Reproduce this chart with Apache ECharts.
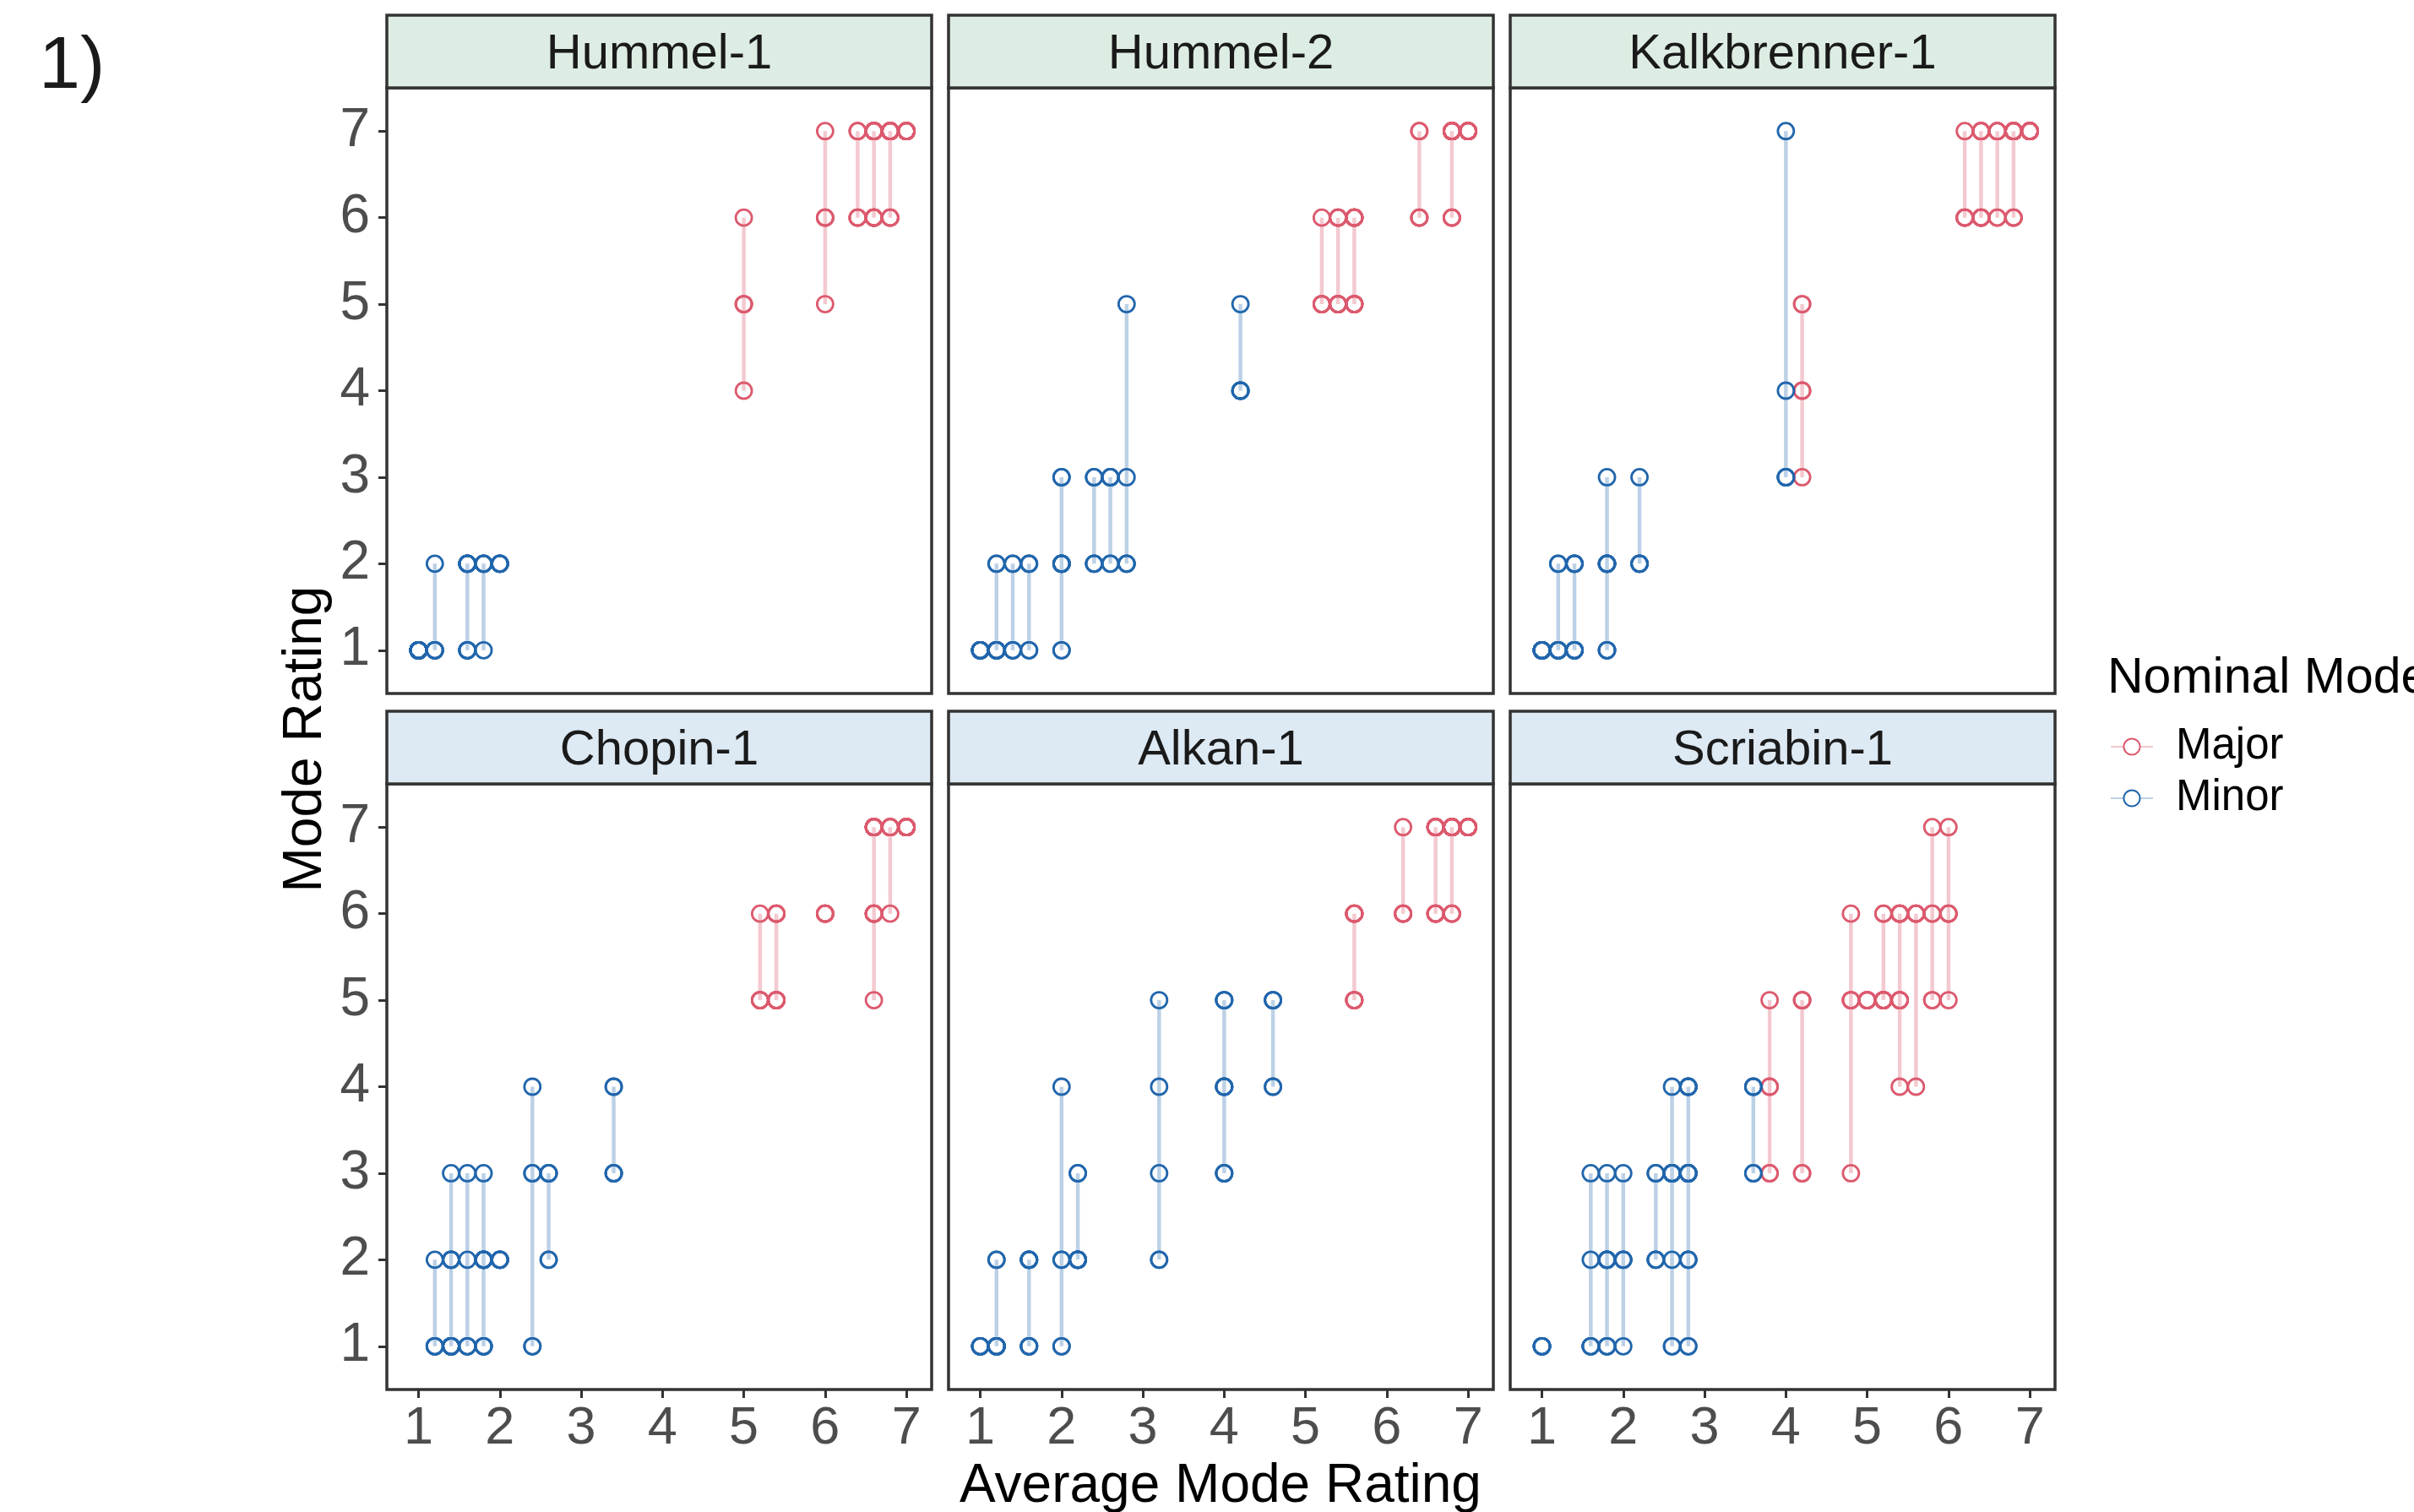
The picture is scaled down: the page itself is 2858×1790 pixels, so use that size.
<!DOCTYPE html>
<html>
<head>
<meta charset="utf-8">
<script src="https://cdn.jsdelivr.net/npm/echarts@6/dist/echarts.min.js"></script>
<style>
html, body { margin: 0; padding: 0; background: #ffffff; }
#chart { width: 2858px; height: 1790px; }
</style>
</head>
<body>
<div id="chart"></div>
<script>
// ---------------- DATA ----------------
// Facet (piece) names, in display order (row by row)
const panelNames = ['Hummel-1', 'Hummel-2', 'Kalkbrenner-1', 'Chopin-1', 'Alkan-1', 'Scriabin-1'];
const modeNames = ['Major', 'Minor'];
const tickValues = [1, 2, 3, 4, 5, 6, 7];

// Each entry = the five mode ratings given to one excerpt; x = their average
const hummel1Major = [
  [6,5,5,5,4], [7,6,6,6,5], [7,7,6,6,6],
  [7,7,7,6,6], [7,7,7,6,6], [7,7,7,6,6], [7,7,7,6,6],
  [7,7,7,7,6], [7,7,7,7,6], [7,7,7,7,6],
  [7,7,7,7,7], [7,7,7,7,7]
];
const hummel1Minor = [
  [1,1,1,1,1], [1,1,1,1,1], [1,1,1,1,1], [1,1,1,1,1], [1,1,1,1,1], [1,1,1,1,1],
  [2,1,1,1,1], [2,2,2,1,1], [2,2,2,1,1], [2,2,2,2,1], [2,2,2,2,2]
];
const hummel2Major = [
  [6,5,5,5,5], [6,6,5,5,5], [6,6,5,5,5],
  [6,6,6,5,5], [6,6,6,5,5], [6,6,6,5,5],
  [7,7,6,6,6],
  [7,7,7,7,6], [7,7,7,7,6], [7,7,7,7,6],
  [7,7,7,7,7], [7,7,7,7,7]
];
const hummel2Minor = [
  [1,1,1,1,1], [1,1,1,1,1], [2,1,1,1,1], [2,1,1,1,1], [2,2,1,1,1], [2,2,2,1,1],
  [3,3,2,1,1], [2,2,2,2,2], [3,3,2,2,2], [3,3,3,2,2], [5,3,2,2,2], [5,4,4,4,4]
];
const kalkbrenner1Major = [
  [5,5,4,4,3], [7,6,6,6,6], [7,7,6,6,6], [7,7,6,6,6], [7,7,7,6,6],
  [7,7,7,7,6], [7,7,7,7,6], [7,7,7,7,6], [7,7,7,7,7], [7,7,7,7,7]
];
const kalkbrenner1Minor = [
  [1,1,1,1,1], [1,1,1,1,1], [1,1,1,1,1], [2,1,1,1,1], [2,1,1,1,1],
  [2,2,1,1,1], [2,2,1,1,1], [3,2,2,1,1], [2,2,2,2,1], [3,2,2,2,2], [7,4,3,3,3]
];
const chopin1Major = [
  [6,5,5,5,5], [6,6,5,5,5], [6,6,5,5,5], [6,6,6,6,6], [7,7,7,7,5],
  [7,7,7,6,6], [7,7,7,6,6], [7,7,7,6,6], [7,7,7,7,6],
  [7,7,7,7,7], [7,7,7,7,7], [7,7,7,7,7]
];
const chopin1Minor = [
  [2,1,1,1,1], [3,1,1,1,1], [2,2,1,1,1], [2,2,1,1,1], [3,2,1,1,1], [3,2,2,1,1],
  [2,2,2,2,1], [2,2,2,2,1], [2,2,2,2,2], [4,3,3,1,1], [3,3,3,2,2], [4,4,3,3,3]
];
const alkan1Major = [
  [6,6,6,5,5], [6,6,6,5,5], [7,6,6,6,6],
  [7,7,7,6,6], [7,7,7,6,6], [7,7,7,6,6],
  [7,7,7,7,6], [7,7,7,7,6], [7,7,7,7,6],
  [7,7,7,7,7], [7,7,7,7,7]
];
const alkan1Minor = [
  [1,1,1,1,1], [2,1,1,1,1], [2,1,1,1,1], [2,2,2,1,1], [2,2,2,1,1], [4,2,2,1,1],
  [3,2,2,2,2], [3,2,2,2,2], [5,4,3,2,2], [5,5,4,3,3], [5,4,4,4,3], [5,5,5,4,4]
];
const scriabin1Major = [
  [5,4,4,3,3], [5,5,5,3,3], [6,5,5,5,3], [5,5,5,5,5], [6,5,5,5,5], [6,5,5,5,5],
  [6,6,6,5,4], [6,6,5,5,5], [6,6,6,6,4], [7,6,6,5,5], [7,6,6,6,5]
];
const scriabin1Minor = [
  [1,1,1,1,1], [3,2,1,1,1], [3,2,2,1,1], [2,2,2,2,1], [3,2,2,2,1], [3,3,2,2,2],
  [4,3,3,2,1], [3,3,3,3,1], [4,4,3,2,1], [4,3,3,3,1], [4,3,3,2,2], [4,4,4,3,3]
];

const panelMajor = [hummel1Major, hummel2Major, kalkbrenner1Major, chopin1Major, alkan1Major, scriabin1Major];
const panelMinor = [hummel1Minor, hummel2Minor, kalkbrenner1Minor, chopin1Minor, alkan1Minor, scriabin1Minor];

// ---------------- STYLE / LAYOUT ----------------
const FONT = 'Liberation Sans';
const pointColor = { Major: '#DC5A6E', Minor: '#2166AC' };
const lineColor = { Major: 'rgba(220,90,110,0.33)', Minor: 'rgba(33,102,172,0.3)' };
const stripFill = ['#DDEDE3', '#DDE9F3'];
const colLeft = [458, 1123, 1788];
const rowTop = [104, 928];
const panelW = 645, panelH = 717, stripH = 86;

const avg = r => r.reduce((a, b) => a + b, 0) / r.length;

const grids = [], xAxes = [], yAxes = [], lineSeries = [], pointSeries = [], graphics = [];

panelNames.forEach((name, i) => {
  const col = i % 3, row = Math.floor(i / 3);
  const left = colLeft[col], top = rowTop[row];
  grids.push({
    left: left, top: top, width: panelW, height: panelH,
    show: true, borderColor: '#333333', borderWidth: 3.5, backgroundColor: '#ffffff',
    containLabel: false
  });
  const showX = row === 1, showY = col === 0;
  xAxes.push({
    type: 'value', gridIndex: i, min: 0.61, max: 7.31,
    axisLine: { show: false },
    splitLine: { show: false },
    axisTick: { show: showX, customValues: tickValues, length: 10, lineStyle: { color: '#333333', width: 3 } },
    axisLabel: { show: showX, customValues: tickValues, fontSize: 63, color: '#4D4D4D', margin: 15, fontFamily: FONT }
  });
  yAxes.push({
    type: 'value', gridIndex: i, min: 0.5, max: 7.5,
    axisLine: { show: false },
    splitLine: { show: false },
    axisTick: { show: showY, customValues: tickValues, length: 10, lineStyle: { color: '#333333', width: 3 } },
    axisLabel: { show: showY, customValues: tickValues, fontSize: 64, color: '#4D4D4D', margin: 20, fontFamily: FONT }
  });

  // facet strip
  graphics.push({
    type: 'rect', silent: true, z: 10,
    shape: { x: left, y: top - stripH, width: panelW, height: stripH },
    style: { fill: stripFill[row], stroke: '#333333', lineWidth: 3.5 }
  });
  graphics.push({
    type: 'text', silent: true, z: 11,
    style: {
      x: left + panelW / 2, y: top - stripH / 2 + 4, text: name,
      align: 'center', verticalAlign: 'middle',
      fontSize: 58, fontFamily: FONT, fill: '#1A1A1A'
    }
  });

  modeNames.forEach(mode => {
    const items = mode === 'Major' ? panelMajor[i] : panelMinor[i];
    // vertical range line per excerpt (min rating to max rating at its average)
    const segs = [];
    items.forEach(r => {
      const x = avg(r);
      segs.push([x, Math.min(...r)], [x, Math.max(...r)], [x, '-']);
    });
    lineSeries.push({
      type: 'line', name: mode, xAxisIndex: i, yAxisIndex: i,
      data: segs, connectNulls: false,
      showSymbol: false, symbol: 'emptyCircle', symbolSize: 19,
      lineStyle: { color: lineColor[mode], width: 4.5 },
      itemStyle: { color: pointColor[mode] },
      silent: true, z: 2
    });
    const pts = [];
    items.forEach(r => {
      const x = avg(r);
      r.forEach(v => pts.push([x, v]));
    });
    pointSeries.push({
      type: 'scatter', name: mode, xAxisIndex: i, yAxisIndex: i,
      data: pts, symbol: 'circle', symbolSize: 19,
      itemStyle: { color: 'rgba(255,255,255,0)', borderColor: pointColor[mode], borderWidth: 2.8, opacity: 1 },
      silent: true, z: 3
    });
  });
});

// Figure label, axis titles, legend title
graphics.push(
  { type: 'text', silent: true, style: { x: 46, y: 80, text: '1)', align: 'left', verticalAlign: 'middle', fontSize: 88, fontFamily: FONT, fill: '#1A1A1A' } },
  { type: 'text', silent: true, style: { x: 1445, y: 1760, text: 'Average Mode Rating', align: 'center', verticalAlign: 'middle', fontSize: 64, fontFamily: FONT, fill: '#000000' } },
  { type: 'text', silent: true, x: 362, y: 875, rotation: Math.PI / 2, style: { x: 0, y: 0, text: 'Mode Rating', align: 'center', verticalAlign: 'middle', fontSize: 64, fontFamily: FONT, fill: '#000000' } },
  { type: 'text', silent: true, style: { x: 2495, y: 804, text: 'Nominal Mode', align: 'left', verticalAlign: 'middle', fontSize: 59, fontFamily: FONT, fill: '#000000' } }
);

const chart = echarts.init(document.getElementById('chart'), null, { renderer: 'canvas' });
chart.setOption({
  animation: false,
  backgroundColor: '#ffffff',
  textStyle: { fontFamily: FONT },
  grid: grids,
  xAxis: xAxes,
  yAxis: yAxes,
  legend: {
    data: modeNames,
    orient: 'vertical',
    left: 2498, top: 856, padding: 0,
    itemWidth: 50, itemHeight: 24, itemGap: 5,
    selectedMode: false,
    textStyle: { fontSize: 51, color: '#000000', fontFamily: FONT, lineHeight: 56, padding: [0, 0, 0, 22] }
  },
  graphic: graphics,
  series: lineSeries.concat(pointSeries)
});
</script>
</body>
</html>
